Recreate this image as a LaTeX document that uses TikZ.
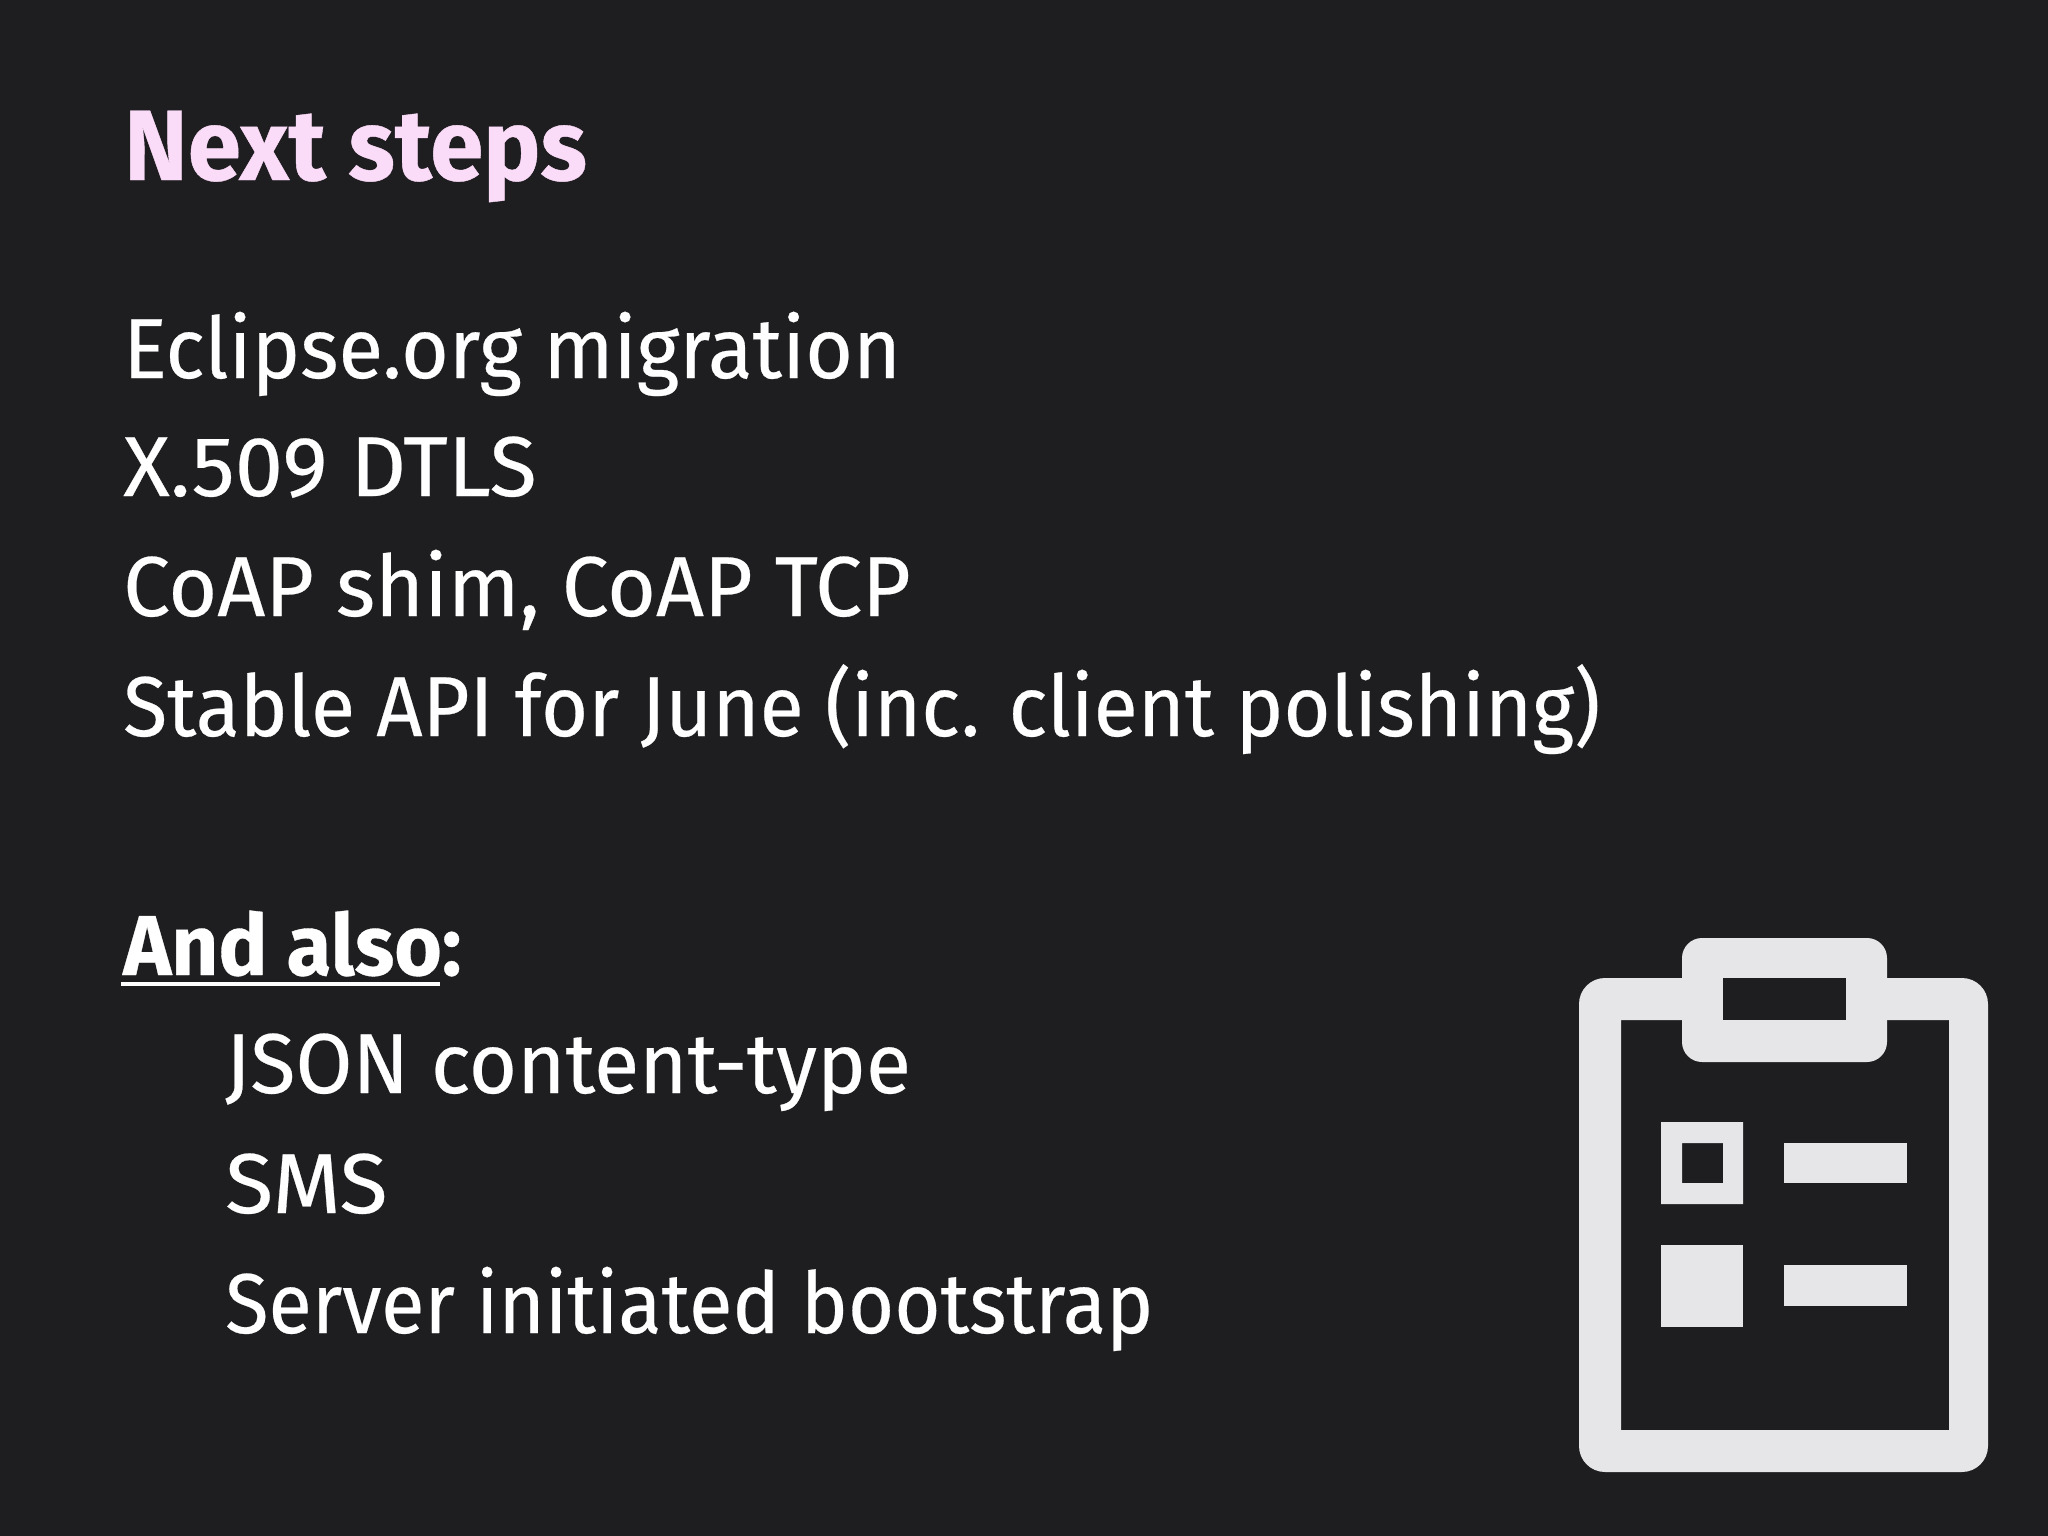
\documentclass[tikz,border=0pt]{standalone}
\usepackage{fontspec}
\usepackage{xcolor}
\setmainfont[FakeStretch=0.96, FakeBold=0.3, BoldFeatures={FakeStretch=0.96, FakeBold=0.4}]{Fira Sans}
\definecolor{slidebg}{HTML}{1E1D20}
\definecolor{titlepink}{HTML}{FBDCF8}
\definecolor{iconwhite}{HTML}{E6E5E8}
\tikzset{
    bodytext/.style={anchor=base west, inner sep=0pt, text=white, font=\fontsize{85}{100}\selectfont\addfontfeature{FakeStretch=#1}},
    bodytext/.default=0.96,
    headtext/.style={anchor=base west, inner sep=0pt, text=white, font=\fontsize{85}{100}\selectfont\bfseries},
    titletext/.style={anchor=base west, inner sep=0pt, text=titlepink, font=\fontsize{100}{120}\selectfont\bfseries},
    iconpart/.style={fill=iconwhite, draw=none}
}

\begin{document}
\begin{tikzpicture}[x=1pt, y=-1pt]
    \fill[slidebg] (0,0) rectangle (2048,1536);
    \node[titletext] (title) at (124, 180) {Next steps};
    \node[bodytext=0.963] (eclipse) at (123, 378) {Eclipse.org migration};
    \node[bodytext=1.017] (dtls) at (123, 496) {X.509 DTLS};
    \node[bodytext=0.985] (coap) at (123, 616) {CoAP shim, CoAP TCP};
    \node[bodytext=0.95] (api) at (123, 736) {Stable API for June (inc. client polishing)};
    \node[headtext] (also) at (123, 975) {And also:};
    \node[bodytext=0.972] (json) at (225, 1093) {JSON content-type};
    \node[bodytext=1.037] (sms) at (225, 1213) {SMS};
    \node[bodytext=0.934] (server) at (225, 1333) {Server initiated bootstrap};
    \coordinate (lineA) at (121, 984);
    \coordinate (lineB) at (440, 984);
    \draw[white, line width=3.5pt] (lineA) -- (lineB);
    % clipboard
    \fill[iconpart, even odd rule, rounded corners=26pt] (1579,978) rectangle (1988,1472)
        [sharp corners] (1621,1020) rectangle (1949,1430);
    \fill[iconpart, rounded corners=20pt] (1682,938) rectangle (1887,1062);
    \fill[slidebg] (1723,978) rectangle (1846,1020);
    % list
    \fill[iconpart, even odd rule] (1661,1122) rectangle (1743,1204) (1682,1143) rectangle (1723,1183);
    \fill[iconpart] (1784,1143) rectangle (1907,1183);
    \fill[iconpart] (1661,1245) rectangle (1743,1327);
    \fill[iconpart] (1784,1265) rectangle (1907,1306);
\end{tikzpicture}
\end{document}
